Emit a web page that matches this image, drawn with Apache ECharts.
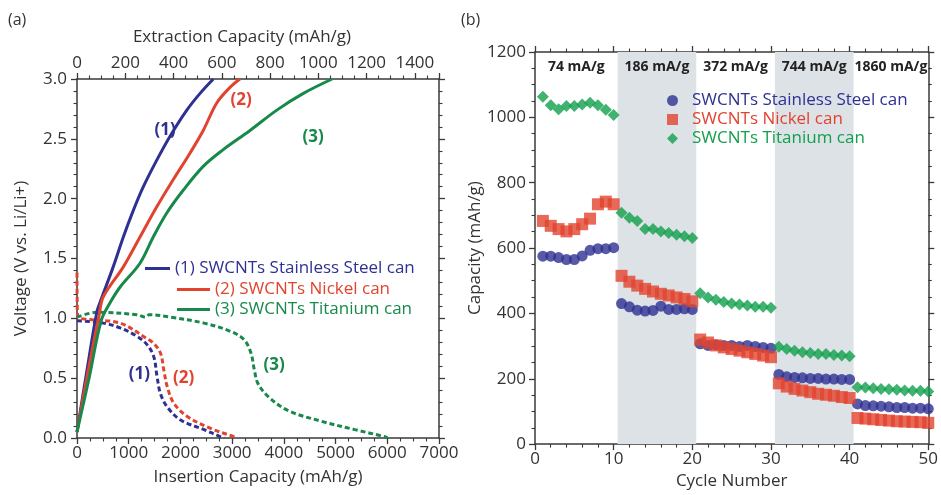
<!DOCTYPE html>
<html>
<head>
<meta charset="utf-8">
<script src="https://cdn.jsdelivr.net/npm/echarts@6/dist/echarts.min.js"></script>
<style>
html, body { margin: 0; padding: 0; background: #fff; }
#main { width: 941px; height: 495px; }
</style>
</head>
<body>
<div id="main"></div>
<script>
// (a) charge curves, extraction capacity (mAh/g) vs voltage
var chargeSS = [[0,0.05],[40,0.55],[82,1.05],[95,1.13],[150,1.43],[192,1.68],[233,1.90],[275,2.10],[330,2.32],[385,2.52],[455,2.74],[510,2.88],[565,3.0]];
var chargeNi = [[0,0.05],[45,0.55],[92,1.03],[109,1.18],[192,1.43],[261,1.68],[330,1.93],[399,2.16],[468,2.38],[523,2.57],[579,2.80],[634,2.93],[675,3.0]];
var chargeTi = [[0,0.05],[50,0.5],[100,0.98],[137,1.13],[178,1.26],[261,1.46],[316,1.68],[372,1.88],[440,2.07],[523,2.27],[606,2.41],[717,2.57],[828,2.74],[938,2.88],[1057,3.0]];
// (a) discharge curves, insertion capacity (mAh/g) vs voltage
var dischSS = [[0,0.98],[511,0.96],[836,0.92],[1160,0.85],[1355,0.78],[1484,0.68],[1549,0.51],[1614,0.37],[1744,0.26],[2003,0.15],[2456,0.07],[2780,0.01],[2850,0]];
var dischNi = [[0,1.38],[10,1.02],[250,0.99],[836,0.96],[1355,0.83],[1484,0.79],[1614,0.71],[1678,0.57],[1744,0.43],[1873,0.29],[2133,0.18],[2586,0.08],[3040,0.01],[3080,0]];
var dischTi = [[0,1.01],[383,1.05],[1160,1.03],[1322,1.01],[1400,1.03],[1808,1.01],[2456,0.96],[2975,0.89],[3234,0.82],[3364,0.71],[3429,0.57],[3494,0.46],[3688,0.35],[4077,0.23],[4725,0.14],[5373,0.07],[5956,0.01],[6000,0]];
var namesA = ['(1) SWCNTs Stainless Steel can', '(2) SWCNTs Nickel can', '(3) SWCNTs Titanium can'];

// (b) cycling
var cycles = [1,2,3,4,5,6,7,8,9,10,11,12,13,14,15,16,17,18,19,20,21,22,23,24,25,26,27,28,29,30,31,32,33,34,35,36,37,38,39,40,41,42,43,44,45,46,47,48,49,50];
var capSS = [575,575,571,565,565,576,593,598,598,601, 430,420,410,407,409,422,412,412,414,412, 307,302,304,302,302,299,302,299,296,293, 213,206,204,203,201,201,199,199,198,198, 123,118,117,116,114,112,112,110,110,108];
var capNi = [683,668,658,651,658,673,690,734,742,734, 515,497,485,475,467,460,455,449,444,437, 320,311,302,296,291,286,281,276,271,266, 186,176,169,164,159,154,151,148,144,141, 80,78,76,74,72,70,69,68,67,65];
var capTi = [1063,1037,1025,1035,1035,1039,1045,1037,1023,1007, 708,693,683,658,658,651,646,641,636,631, 462,449,442,435,430,427,424,420,420,417, 298,291,286,281,279,276,276,273,271,269, 174,173,171,169,168,166,164,163,163,161];
var namesB = ['SWCNTs Stainless Steel can', 'SWCNTs Nickel can', 'SWCNTs Titanium can'];
var rateLabels = ['74 mA/g', '186 mA/g', '372 mA/g', '744 mA/g', '1860 mA/g'];
var bandEdges = [0, 10.5, 20.5, 30.5, 40.5, 50];

var blue = '#2e3192', red = '#e2432e', greenA = '#17894a', greenB = '#12a04c';
var axisCol = '#3a3a3a';
var font = 'Open Sans';

function pairs(xs, ys) {
  var out = [];
  for (var i = 0; i < xs.length; i++) out.push([xs[i], ys[i]]);
  return out;
}
function plain(v) { return String(v); }

function frameAxis(extra) {
  var a = {
    axisLine: { show: true, onZero: false, lineStyle: { color: axisCol, width: 1.5 } },
    axisTick: { show: true, inside: false, length: 6, lineStyle: { color: axisCol, width: 1.3 } },
    splitLine: { show: false },
    nameTextStyle: { color: '#333', fontSize: 17, fontFamily: font }
  };
  for (var k in extra) a[k] = extra[k];
  return a;
}
function minor(n) {
  return { show: true, splitNumber: n, length: 3.5, lineStyle: { color: axisCol, width: 1.1 } };
}
function labels(margin, fmt) {
  return { color: '#333', fontSize: 17, fontFamily: font, margin: margin, formatter: fmt || plain };
}

var bands = [];
for (var i = 0; i < rateLabels.length; i++) {
  bands.push([
    { xAxis: bandEdges[i], name: rateLabels[i],
      itemStyle: { color: i % 2 === 1 ? '#dde2e7' : 'rgba(0,0,0,0)' } },
    { xAxis: bandEdges[i + 1] }
  ]);
}

function tag(txt, color, coord) {
  return {
    symbol: 'circle', symbolSize: 0,
    data: [{ coord: coord, label: { show: true, position: 'inside', formatter: txt,
      color: color, fontSize: 17, fontWeight: 'bold', fontFamily: font } }]
  };
}

var solid = function (name, data, color, tagTxt, tagCoord) {
  return {
    name: name, type: 'line', xAxisIndex: 1, yAxisIndex: 0, data: data,
    smooth: 0.35, symbol: 'none', z: 3,
    lineStyle: { color: color, width: 3 }, itemStyle: { color: color },
    markPoint: tag(tagTxt, color, tagCoord)
  };
};
var dashed = function (name, data, color, tagTxt, tagCoord) {
  return {
    name: name, type: 'line', xAxisIndex: 0, yAxisIndex: 0, data: data,
    smooth: 0.35, symbol: 'none', z: 2,
    lineStyle: { color: color, width: 3, type: [5, 3] }, itemStyle: { color: color },
    markPoint: tag(tagTxt, color, tagCoord)
  };
};

function lineLegend(name, color, left, top, w) {
  return {
    data: [name], left: left, top: top, itemWidth: w, itemHeight: 3, icon: 'rect',
    selectedMode: false, padding: 0,
    textStyle: { color: color, fontSize: 17, fontFamily: font }
  };
}

var option = {
  animation: false,
  textStyle: { fontFamily: font },
  graphic: [
    { type: 'text', left: 8, top: 12, style: { text: '(a)', fontSize: 16, fontFamily: font, fill: '#333' } },
    { type: 'text', left: 461, top: 12, style: { text: '(b)', fontSize: 16, fontFamily: font, fill: '#333' } }
  ],
  legend: [
    lineLegend(namesA[0], blue, 145, 260, 25),
    lineLegend(namesA[1], red, 177, 281, 33),
    lineLegend(namesA[2], greenA, 177, 301, 33),
    {
      data: [
        { name: namesB[0], textStyle: { color: blue } },
        { name: namesB[1], textStyle: { color: red } },
        { name: namesB[2], textStyle: { color: greenB } }
      ],
      orient: 'vertical', left: 667, top: 92, itemWidth: 11, itemHeight: 11, itemGap: 2,
      selectedMode: false, padding: 0,
      textStyle: { fontSize: 17, lineHeight: 17, fontFamily: font, padding: [0, 0, 0, 9] }
    }
  ],
  grid: [
    { left: 77, right: 502, top: 79, bottom: 57 },
    { left: 535, right: 8, top: 52, bottom: 45 }
  ],
  xAxis: [
    frameAxis({ gridIndex: 0, type: 'value', position: 'bottom', min: 0, max: 7000, interval: 1000,
      minorTick: minor(4), name: 'Insertion Capacity (mAh/g)', nameLocation: 'middle', nameGap: 31,
      axisLabel: labels(7) }),
    frameAxis({ gridIndex: 0, type: 'value', position: 'top', min: 0, max: 1500, interval: 200,
      minorTick: minor(4), name: 'Extraction Capacity (mAh/g)', nameLocation: 'middle', nameGap: 33,
      nameTextStyle: { color: '#333', fontSize: 17, fontFamily: font, padding: [0, 32, 0, 0] },
      axisLabel: labels(7, function (v) { return v > 1400 ? '' : String(v); }) }),
    frameAxis({ gridIndex: 1, type: 'value', position: 'bottom', min: 0, max: 50, interval: 10,
      minorTick: minor(5), name: 'Cycle Number', nameLocation: 'middle', nameGap: 26,
      axisLabel: labels(7) }),
    frameAxis({ gridIndex: 1, type: 'value', position: 'top', min: 0, max: 50, interval: 10,
      minorTick: minor(5), axisLabel: { show: false } })
  ],
  yAxis: [
    frameAxis({ gridIndex: 0, type: 'value', position: 'left', min: 0, max: 3, interval: 0.5,
      minorTick: minor(5), name: 'Voltage (V vs. Li/Li+)', nameLocation: 'middle', nameGap: 47,
      axisLabel: labels(10, function (v) { return v.toFixed(1); }) }),
    frameAxis({ gridIndex: 0, type: 'value', position: 'right', min: 0, max: 3, interval: 0.5,
      minorTick: minor(5), axisLabel: { show: false } }),
    frameAxis({ gridIndex: 1, type: 'value', position: 'left', min: 0, max: 1200, interval: 200,
      minorTick: minor(4), name: 'Capacity (mAh/g)', nameLocation: 'middle', nameGap: 40,
      axisLabel: labels(9) }),
    frameAxis({ gridIndex: 1, type: 'value', position: 'right', min: 0, max: 1200, interval: 200,
      minorTick: minor(4), axisLabel: { show: false } })
  ],
  series: [
    solid(namesA[0], chargeSS, blue, '(1)', [365, 2.57]),
    solid(namesA[1], chargeNi, red, '(2)', [680, 2.82]),
    solid(namesA[2], chargeTi, greenA, '(3)', [978, 2.51]),
    dashed('Insertion SS', dischSS, blue, '(1)', [1205, 0.53]),
    dashed('Insertion Ni', dischNi, red, '(2)', [2061, 0.50]),
    dashed('Insertion Ti', dischTi, greenA, '(3)', [3811, 0.61]),
    {
      name: 'rate bands', type: 'line', xAxisIndex: 2, yAxisIndex: 2, data: [], z: 1,
      markArea: {
        silent: true,
        label: { show: true, position: 'insideTop', distance: 8, color: '#222',
          fontSize: 14, fontWeight: 'bold', fontFamily: font },
        data: bands
      }
    },
    { name: namesB[0], type: 'scatter', xAxisIndex: 2, yAxisIndex: 2, data: pairs(cycles, capSS),
      symbol: 'circle', symbolSize: 11, itemStyle: { color: blue }, z: 3 },
    { name: namesB[1], type: 'scatter', xAxisIndex: 2, yAxisIndex: 2, data: pairs(cycles, capNi),
      symbol: 'rect', symbolSize: 12, itemStyle: { color: red }, z: 4 },
    { name: namesB[2], type: 'scatter', xAxisIndex: 2, yAxisIndex: 2, data: pairs(cycles, capTi),
      symbol: 'diamond', symbolSize: 12, itemStyle: { color: greenB }, z: 5 }
  ]
};

var chart = echarts.init(document.getElementById('main'));
chart.setOption(option);
</script>
</body>
</html>
